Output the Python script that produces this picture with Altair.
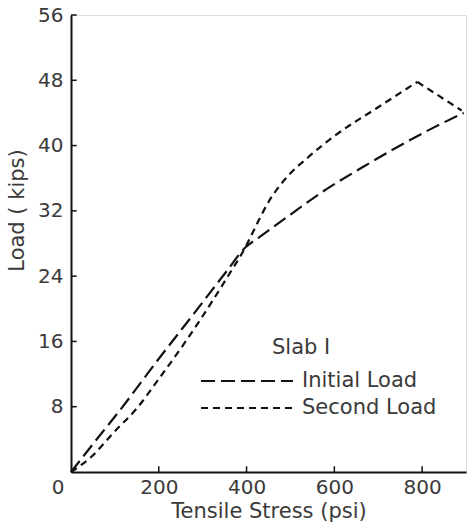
import altair as alt
import pandas as pd

# ---- data ----
initial_x = [0, 60, 112, 196, 280, 356, 397, 427, 504, 572, 666, 743, 826, 895]
initial_y = [0, 4.1, 7.6, 13.6, 19.4, 24.7, 27.5, 28.7, 31.7, 34.3, 37.4, 39.8, 42.2, 44.0]

second_x = [0, 45, 100, 150, 200, 260, 324, 360, 397, 420, 449, 488, 541, 606, 697, 789]
second_y = [0, 1.8, 5.0, 7.8, 11.4, 15.9, 21.1, 24.2, 27.5, 30.0, 33.0, 35.9, 38.6, 41.4, 44.6, 47.8]

tail_x = [789, 890]
tail_y = [47.8, 44.3]

series_names = ["Initial Load", "Second Load"]
x_tick_values = [0, 200, 400, 600, 800]
y_tick_values = [8, 16, 24, 32, 40, 48, 56]

rows = []
for x, y in zip(initial_x, initial_y):
    rows.append({"stress": x, "load": y, "series": "Initial Load", "seg": "a"})
for x, y in zip(second_x, second_y):
    rows.append({"stress": x, "load": y, "series": "Second Load", "seg": "a"})
for x, y in zip(tail_x, tail_y):
    rows.append({"stress": x, "load": y, "series": "Second Load", "seg": "b"})
df = pd.DataFrame(rows)

FONT = "DejaVu Sans"
TXT = "#3a3a3a"

xscale = alt.Scale(domain=[0, 900], nice=False, zero=True)
yscale = alt.Scale(domain=[0, 56], nice=False, zero=True)

lines = alt.Chart(df).mark_line(strokeWidth=2.2, color="#111", interpolate="monotone").encode(
    x=alt.X("stress:Q", scale=xscale,
            axis=alt.Axis(values=x_tick_values, title="Tensile Stress (psi)",
                          grid=False, ticks=False, domainColor="#111", domainWidth=2,
                          labelFont=FONT, labelFontSize=20, labelColor=TXT, labelPadding=5,
                          labelAlign={"condition": {"test": "datum.value == 0", "value": "right"}, "value": "center"},
                          labelOffset={"condition": {"test": "datum.value == 0", "value": -7}, "value": 0},
                          titleFont=FONT, titleFontSize=21, titleFontWeight="normal", titleColor=TXT,
                          titlePadding=3)),
    y=alt.Y("load:Q", scale=yscale,
            axis=alt.Axis(values=y_tick_values, title="Load ( kips)",
                          grid=False, ticks=False, domainColor="#111", domainWidth=2,
                          labelFont=FONT, labelFontSize=20, labelColor=TXT, labelPadding=8,
                          titleFont=FONT, titleFontSize=21, titleFontWeight="normal", titleColor=TXT,
                          titleX=-54, titleY=195, titleAlign="center", titleBaseline="middle")),
    strokeDash=alt.StrokeDash("series:N",
                              scale=alt.Scale(domain=series_names, range=[[14, 6], [7, 5]]),
                              legend=alt.Legend(title="Slab I", orient="none", legendX=201, legendY=322,
                                                symbolType="M-8.2,0H1", symbolSize=400, symbolStrokeWidth=2,
                                                symbolStrokeColor="#111",
                                                titleFont=FONT, titleFontSize=21, titleFontWeight="normal",
                                                titleColor=TXT, titleAnchor="start", titlePadding=12,
                                                labelFont=FONT, labelFontSize=21, labelColor=TXT,
                                                labelOffset=8, rowPadding=6)),
    detail="seg:N",
)

xt = pd.DataFrame({"v": x_tick_values[1:], "lo": [0] * 4, "hi": [0.7] * 4})
yt = pd.DataFrame({"v": y_tick_values, "lo": [0] * 7, "hi": [13] * 7})

xticks = alt.Chart(xt).mark_rule(color="#111", strokeWidth=1.5).encode(
    x=alt.X("v:Q", scale=xscale), y=alt.Y("lo:Q", scale=yscale), y2="hi:Q")
yticks = alt.Chart(yt).mark_rule(color="#111", strokeWidth=1.5).encode(
    y=alt.Y("v:Q", scale=yscale), x=alt.X("lo:Q", scale=xscale), x2="hi:Q")

chart = alt.layer(lines, xticks, yticks).properties(
    width=395, height=457,
    autosize=alt.AutoSizeParams(type="none"),
    padding={"left": 71, "top": 15, "right": 2, "bottom": 59},
).configure_view(stroke=None).configure(background="white")

chart.save("out.html", embed_options={"renderer": "svg", "actions": False})
